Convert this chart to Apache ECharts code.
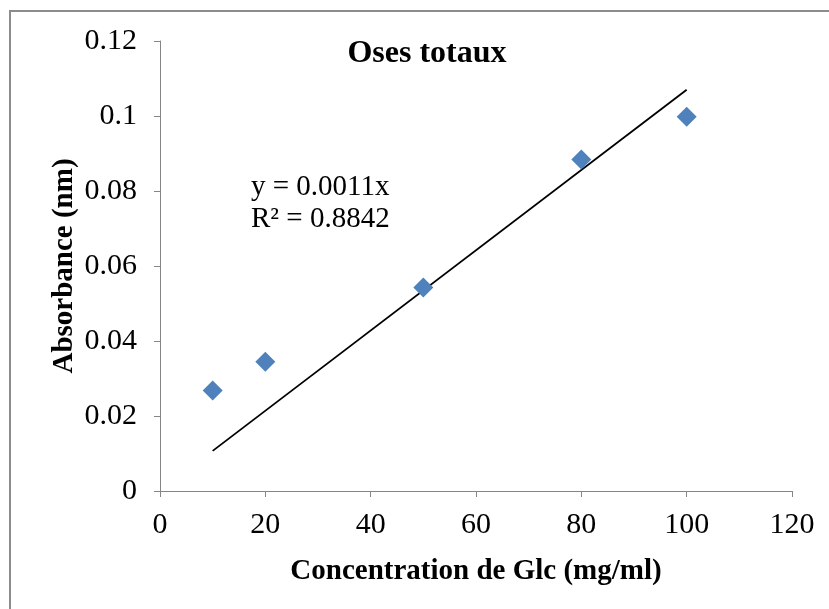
<!DOCTYPE html>
<html>
<head>
<meta charset="utf-8">
<script src="https://cdn.jsdelivr.net/npm/echarts@6/dist/echarts.min.js"></script>
<style>html,body{margin:0;padding:0;background:#fff}#c{width:829px;height:609px}</style>
</head>
<body>
<div id="c"></div>
<script>
const concentrations = [10, 20, 50, 80, 100];
const absorbances = [0.0268, 0.0345, 0.0543, 0.0884, 0.0998];
const trendSlope = 0.00107;
const xTicks = [0, 20, 40, 60, 80, 100, 120];
const yTicks = [0, 0.02, 0.04, 0.06, 0.08, 0.1, 0.12];
const titleText = 'Oses totaux';
const xName = 'Concentration de Glc (mg/ml)';
const yName = 'Absorbance (nm)';
const equationLines = ['y = 0.0011x', 'R² = 0.8842'];

const points = concentrations.map((x, i) => [x, absorbances[i]]);
const xMin = Math.min(...concentrations), xMax = Math.max(...concentrations);
const trend = [[xMin, trendSlope * xMin], [xMax, trendSlope * xMax]];

const FONT = '"Liberation Serif", "Times New Roman", serif';
const AX = '#868686';

const chart = echarts.init(document.getElementById('c'), null, {renderer: 'canvas'});
chart.setOption({
  animation: false,
  backgroundColor: '#fff',
  grid: {left: 160, right: 37, top: 41, bottom: 118, containLabel: false},
  xAxis: {
    type: 'value', min: xTicks[0], max: xTicks[xTicks.length - 1], interval: 20,
    name: xName, nameLocation: 'middle', nameGap: 66, nameMoveOverlap: false,
    nameTextStyle: {fontFamily: FONT, fontWeight: 'bold', fontSize: 29, color: '#000'},
    axisLine: {show: true, lineStyle: {color: AX, width: 1}},
    axisTick: {show: true, length: 6, lineStyle: {color: AX}},
    axisLabel: {fontFamily: FONT, fontSize: 30, color: '#000', margin: 19},
    splitLine: {show: false}
  },
  yAxis: {
    type: 'value', min: yTicks[0], max: yTicks[yTicks.length - 1], interval: 0.02,
    name: yName, nameLocation: 'middle', nameGap: 81, nameRotate: 90, nameMoveOverlap: false,
    nameTextStyle: {fontFamily: FONT, fontWeight: 'bold', fontSize: 29, color: '#000'},
    axisLine: {show: true, lineStyle: {color: AX, width: 1}},
    axisTick: {show: true, length: 6, lineStyle: {color: AX}},
    axisLabel: {fontFamily: FONT, fontSize: 30, color: '#000', margin: 23,
      formatter: v => String(parseFloat(v.toFixed(4)))},
    splitLine: {show: false}
  },
  graphic: [
    {type: 'rect', silent: true, shape: {x: 10, y: 11, width: 900, height: 700},
     style: {fill: 'none', stroke: '#8c8c8c', lineWidth: 2}},
    {type: 'text', x: 427, y: 54, style: {text: titleText, font: 'bold 32px ' + FONT,
     fill: '#000', textAlign: 'center', textVerticalAlign: 'middle'}},
    {type: 'text', x: 251, y: 187, style: {text: equationLines[0], font: '29px ' + FONT,
     fill: '#000', textAlign: 'left', textVerticalAlign: 'middle'}},
    {type: 'text', x: 251, y: 219, style: {text: equationLines[1], font: '29px ' + FONT,
     fill: '#000', textAlign: 'left', textVerticalAlign: 'middle'}}
  ],
  series: [
    {type: 'line', data: trend, symbol: 'none', silent: true,
     lineStyle: {color: '#000', width: 1.8}, z: 2},
    {type: 'scatter', data: points, symbol: 'diamond', symbolSize: 20,
     itemStyle: {color: '#4F81BD', opacity: 1}, z: 3}
  ]
});
</script>
</body>
</html>
